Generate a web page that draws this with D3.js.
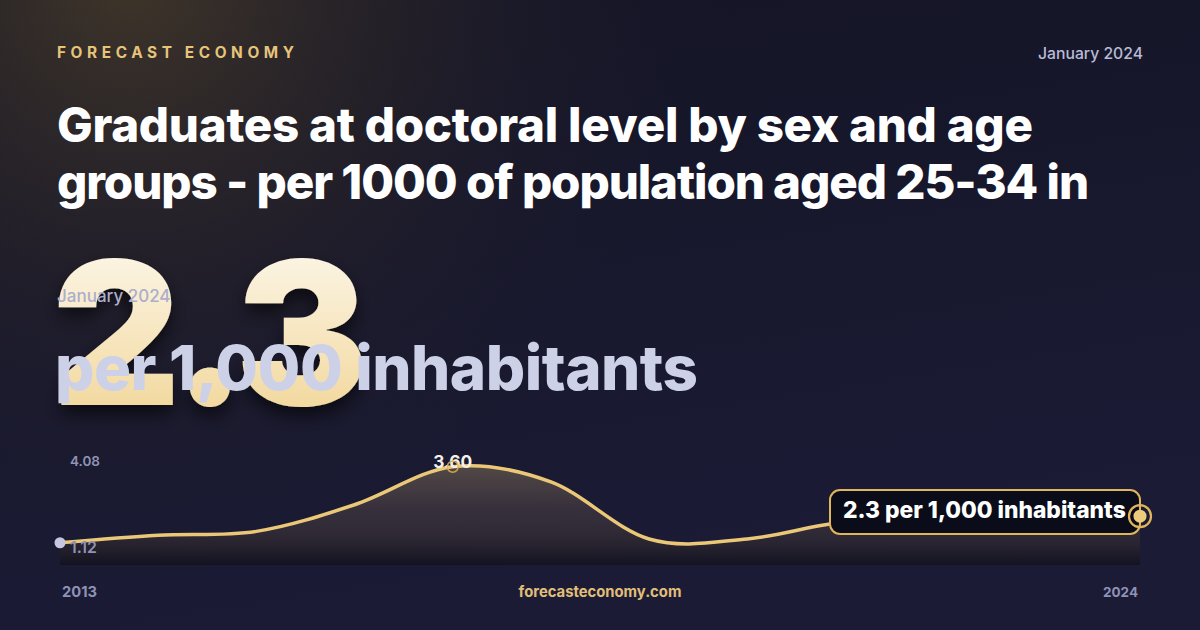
<!DOCTYPE html>
<html><head><meta charset="utf-8">
<script src="https://cdn.jsdelivr.net/npm/d3@7"></script>
<style>html,body{margin:0;padding:0;background:#15152a;}svg{display:block}</style>
</head><body>
<svg id="c" width="1200" height="630"></svg>
<script>
// ---- data ----
const years = [2013,2014,2015,2016,2017,2018,2019,2020,2021,2022,2023,2024];
const values = [1.6,1.8,1.9,2.6,3.6,3.2,1.7,1.7,2.15,2.2,2.25,2.3];
const yDomain = [1.12, 4.08];
const yTickLabels = ["4.08","1.12"];
const xTickLabels = ["2013","2024"];
const brand = "FORECAST ECONOMY";
const dateLabel = "January 2024";
const titleLines = ["Graduates at doctoral level by sex and age","groups - per 1000 of population aged 25-34 in"];
const bigValue = "2.3";
const unitLabel = "per 1,000 inhabitants";
const peakLabel = "3.60";
const calloutLabel = "2.3 per 1,000 inhabitants";
const footer = "forecasteconomy.com";

const svg = d3.select("#c");
const defs = svg.append("defs");
const F = "Inter, 'Noto Sans', sans-serif";

// background
const bg = defs.append("linearGradient").attr("id","bg").attr("x1",0).attr("y1",0).attr("x2",0.3).attr("y2",1);
bg.append("stop").attr("offset",0).attr("stop-color","#141424");
bg.append("stop").attr("offset",1).attr("stop-color","#1b1b36");
const glow = defs.append("radialGradient").attr("id","glow").attr("gradientUnits","userSpaceOnUse")
  .attr("cx",130).attr("cy",-20).attr("r",600);
glow.append("stop").attr("offset",0).attr("stop-color","#3f3529").attr("stop-opacity",1);
glow.append("stop").attr("offset",0.5).attr("stop-color","#2a2529").attr("stop-opacity",0.55);
glow.append("stop").attr("offset",1).attr("stop-color","#1a1a2e").attr("stop-opacity",0);
svg.append("rect").attr("width",1200).attr("height",630).attr("fill","url(#bg)");
svg.append("rect").attr("width",1200).attr("height",630).attr("fill","url(#glow)");

function fit(sel, w){
  const fs = +sel.attr("font-size");
  const l = sel.node().getComputedTextLength();
  sel.attr("font-size", fs*w/l);
  return sel;
}
function txt(xp, yp, t, o){
  const s = svg.append("text").attr("x",xp).attr("y",yp).attr("font-family",F).text(t);
  Object.entries(o||{}).forEach(([k,v])=>s.attr(k,v));
  return s;
}

// header
fit(txt(57,58,brand,{"font-weight":700,"font-size":14,"letter-spacing":4.6,fill:"#e6c47c"}), 249);
fit(txt(1143,59,dateLabel,{"text-anchor":"end","font-weight":500,"font-size":14.5,fill:"#b9bbd6"}), 105);

// title: line 1 sets the size, line 2 gets letter-spacing to match its reference width
const targetW = [975, 1031];
const tl = titleLines.map((t,i)=>txt(57,142+i*57,t,{"font-weight":800,"font-size":44,"letter-spacing":-0.3,
  fill:"#ffffff",style:"font-variant-numeric:proportional-nums"}));
fit(tl[0], targetW[0]);
tl[1].attr("font-size", tl[0].attr("font-size"));
const w2 = tl[1].node().getComputedTextLength();
tl[1].attr("letter-spacing", -0.3 + (targetW[1]-w2)/titleLines[1].length);

// big number
const bigG = defs.append("linearGradient").attr("id","bigG").attr("x1",0).attr("y1",0).attr("x2",0).attr("y2",1);
bigG.append("stop").attr("offset",0).attr("stop-color","#fefcf6");
bigG.append("stop").attr("offset",1).attr("stop-color","#f0d18c");
const sh = defs.append("filter").attr("id","sh").attr("x","-20%").attr("y","-20%").attr("width","140%").attr("height","150%");
sh.append("feDropShadow").attr("dx",0).attr("dy",9).attr("stdDeviation",9).attr("flood-color","#000").attr("flood-opacity",0.6);
fit(txt(52,405,bigValue,{"font-weight":900,"font-size":196,"letter-spacing":-8,fill:"url(#bigG)",filter:"url(#sh)"}), 308);

txt(57,302,dateLabel,{"font-weight":500,"font-size":17,fill:"#acaecb"});
fit(txt(55,390,unitLabel,{"font-weight":800,"font-size":58,"letter-spacing":-0.5,fill:"#cdd1e8"}), 642);

// chart
const x = d3.scaleLinear().domain([years[0], years[years.length-1]]).range([60,1140]);
const y = d3.scaleLinear().domain(yDomain).range([561,448.5]);
const bottom = 565;
const data = years.map((yr,i)=>({yr, v: values[i]}));

const ag = defs.append("linearGradient").attr("id","ag").attr("gradientUnits","userSpaceOnUse")
  .attr("x1",0).attr("y1",y(yDomain[1])).attr("x2",0).attr("y2",bottom);
ag.append("stop").attr("offset",0).attr("stop-color","#e8c47a").attr("stop-opacity",0.34);
ag.append("stop").attr("offset",0.55).attr("stop-color","#7a6450").attr("stop-opacity",0.28);
ag.append("stop").attr("offset",1).attr("stop-color","#0c0b10").attr("stop-opacity",0.55);

const curve = d3.curveCardinal.tension(0);
svg.append("path").datum(data).attr("fill","url(#ag)")
  .attr("d", d3.area().x(d=>x(d.yr)).y0(bottom).y1(d=>y(d.v)).curve(curve));
svg.append("path").datum(data).attr("fill","none").attr("stroke","#ebc877").attr("stroke-width",3.5)
  .attr("stroke-linejoin","round").attr("stroke-linecap","round")
  .attr("d", d3.line().x(d=>x(d.yr)).y(d=>y(d.v)).curve(curve));

// y labels
fit(txt(70,466,yTickLabels[0],{"font-weight":600,"font-size":14,fill:"#9093b4"}), 30);
fit(txt(70,553,yTickLabels[1],{"font-weight":600,"font-size":14,fill:"#9093b4"}), 27);

// start dot
svg.append("circle").attr("cx",x(years[0])).attr("cy",y(values[0])).attr("r",5.5).attr("fill","#c4c7df");

// peak
const pi = values.indexOf(d3.max(values));
fit(txt(x(years[pi]),y(values[pi])+1,peakLabel,{"text-anchor":"middle","font-weight":700,"font-size":15.5,fill:"#f4f1ea"}), 39);
svg.append("circle").attr("cx",x(years[pi])).attr("cy",y(values[pi])).attr("r",5.5)
  .attr("fill","none").attr("stroke","#d9ac4e").attr("stroke-width",1.5).attr("stroke-opacity",0.9);

// callout
const li = years.length-1;
const ex = x(years[li]), ey = y(values[li]);
svg.append("rect").attr("x",830).attr("y",490).attr("width",ex-830).attr("height",44).attr("rx",10)
  .attr("fill","#0b0c19").attr("stroke","#dfb65a").attr("stroke-width",2);
fit(txt(843,518,calloutLabel,{"font-weight":800,"font-size":19.5,fill:"#ffffff"}), 283);
svg.append("circle").attr("cx",ex).attr("cy",ey).attr("r",11).attr("fill","none").attr("stroke","#e0b65a").attr("stroke-width",2.2);
svg.append("circle").attr("cx",ex).attr("cy",ey).attr("r",6.5).attr("fill","#eccb7d");

// footer
fit(txt(62,597,xTickLabels[0],{"font-weight":700,"font-size":14,fill:"#8e92b5"}), 35);
fit(txt(1138,597,xTickLabels[1],{"text-anchor":"end","font-weight":700,"font-size":14,fill:"#8e92b5"}), 35);
fit(txt(600,597,footer,{"text-anchor":"middle","font-weight":700,"font-size":14,fill:"#e2bf78"}), 163);
</script>
</body></html>
